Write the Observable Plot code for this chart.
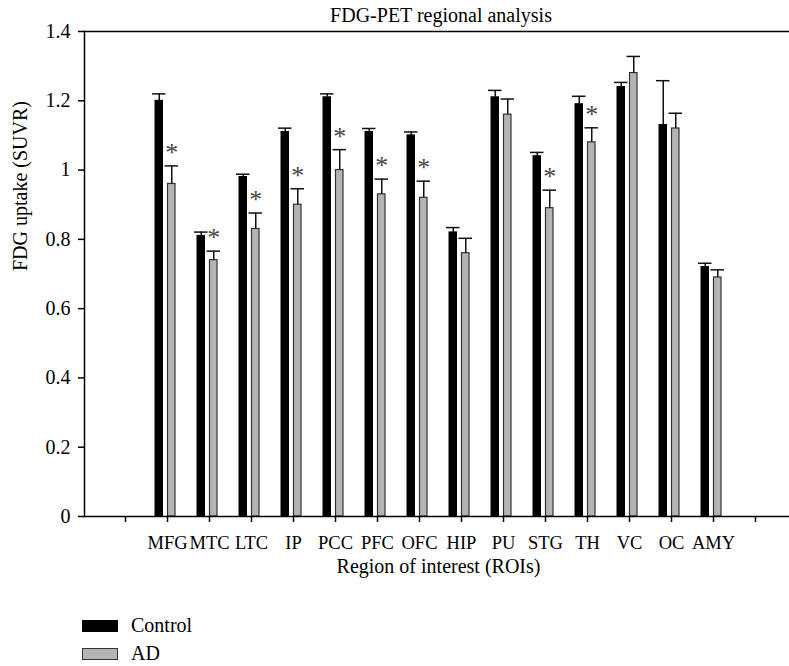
<!DOCTYPE html>
<html>
<head>
<meta charset="utf-8">
<script src="https://cdn.jsdelivr.net/npm/d3@7"></script>
<script src="https://cdn.jsdelivr.net/npm/@observablehq/plot@0.6"></script>
<style>
  html, body { margin: 0; padding: 0; background: #fff; overflow: hidden; }
  body { font-family: "Liberation Serif", "DejaVu Serif", serif; color: #000; width: 789px; height: 666px; position: relative; }
  #title { height: 10px; font-size: 20px; line-height: 20px; position: relative; }
  #title span { position: absolute; top: 5px; left: 441px; transform: translateX(-50%); white-space: nowrap; }
  #chart svg { display: block; }
  .lg-rect { position: absolute; left: 82px; width: 36px; height: 12px; box-sizing: border-box; }
  .lg-text { position: absolute; left: 131px; font-size: 20px; line-height: 20px; white-space: nowrap; }
</style>
</head>
<body>
<div id="title"><span>FDG-PET regional analysis</span></div>
<div id="chart"></div>
<div class="lg-rect" style="top:620px;background:#000;"></div>
<div class="lg-text" style="top:615px;">Control</div>
<div class="lg-rect" style="top:648px;background:#b4b4b4;border:1px solid #333;"></div>
<div class="lg-text" style="top:643px;">AD</div>
<script>
// ---- data ----
const rois = ["MFG","MTC","LTC","IP","PCC","PFC","OFC","HIP","PU","STG","TH","VC","OC","AMY"];
const control    = [1.20, 0.81, 0.98, 1.11, 1.21, 1.11, 1.10, 0.82, 1.21, 1.04, 1.19, 1.24, 1.13, 0.72];
const controlErr = [0.020,0.011,0.008,0.011,0.010,0.010,0.010,0.014,0.020,0.011,0.023,0.013,0.128,0.011];
const ad         = [0.96, 0.74, 0.83, 0.90, 1.00, 0.93, 0.92, 0.76, 1.16, 0.89, 1.08, 1.28, 1.12, 0.69];
const adErr      = [0.052,0.026,0.046,0.046,0.059,0.044,0.048,0.043,0.045,0.052,0.042,0.048,0.044,0.022];
const significant = [1,1,1,1,1,1,1,0,0,1,1,0,0,0];
const yTicks = [0, 0.2, 0.4, 0.6, 0.8, 1, 1.2, 1.4];
const xDomain = ["", ...rois, " "];
const yLabel = "FDG uptake (SUVR)";
const xLabel = "Region of interest (ROIs)";

const rows = rois.map((roi, i) => ({
  roi,
  control: control[i], cTop: control[i] + controlErr[i],
  ad: ad[i], aTop: ad[i] + adErr[i],
  sig: significant[i] === 1
}));

const off = 6.25;
const chart = Plot.plot({
  width: 789,
  height: 581,
  marginTop: 21,
  marginLeft: 84,
  marginRight: -3,
  marginBottom: 75,
  style: { fontFamily: "Liberation Serif, DejaVu Serif, serif", fontSize: "20px", color: "#000", background: "#fff" },
  x: { domain: xDomain, paddingInner: 0.512, paddingOuter: 0.676 },
  y: { domain: [0, 1.4] },
  marks: [
    Plot.barY(rows, { x: "roi", y: "control", fill: "#000", stroke: "#000", strokeWidth: 1, insetRight: 12.5 }),
    Plot.barY(rows, { x: "roi", y: "ad", fill: "#b4b4b4", stroke: "#333", strokeWidth: 1.2, insetLeft: 12.5 }),
    Plot.ruleX(rows, { x: "roi", y1: "control", y2: "cTop", dx: -off, stroke: "#111", strokeWidth: 1.5 }),
    Plot.ruleX(rows, { x: "roi", y1: "ad", y2: "aTop", dx: off, stroke: "#111", strokeWidth: 1.5 }),
    Plot.tickY(rows, { x: "roi", y: "cTop", dx: -off, insetLeft: 3.25, insetRight: 3.25, stroke: "#111", strokeWidth: 1.5 }),
    Plot.tickY(rows, { x: "roi", y: "aTop", dx: off, insetLeft: 3.25, insetRight: 3.25, stroke: "#111", strokeWidth: 1.5 }),
    Plot.text(rows.filter(d => d.sig), { x: "roi", y: "aTop", text: () => "*", dx: off, dy: -13, fontSize: 26, fill: "#444" }),
    Plot.frame({ anchor: "top", stroke: "#000", strokeWidth: 1.5 }),
    Plot.frame({ anchor: "left", stroke: "#000", strokeWidth: 1.5 }),
    Plot.frame({ anchor: "bottom", stroke: "#000", strokeWidth: 1.5 }),
    Plot.axisY({ ticks: yTicks, tickFormat: d3.format("~g"), tickSize: 6, tickPadding: 8, fontSize: 20,
      strokeWidth: 1.5, label: null }),
    Plot.axisX({ tickFormat: d => d.trim(), tickSize: 6, tickPadding: 13, fontSize: 18.5, strokeWidth: 1.5,
      dx: 2, label: null }),
    Plot.text([yLabel], { frameAnchor: "left", text: d => d, rotate: -90, dx: -64, dy: -3, fontSize: 20 }),
    Plot.text([xLabel], { frameAnchor: "bottom", text: d => d, dy: 56, fontSize: 20 })
  ]
});
document.getElementById("chart").appendChild(chart);
</script>
</body>
</html>
